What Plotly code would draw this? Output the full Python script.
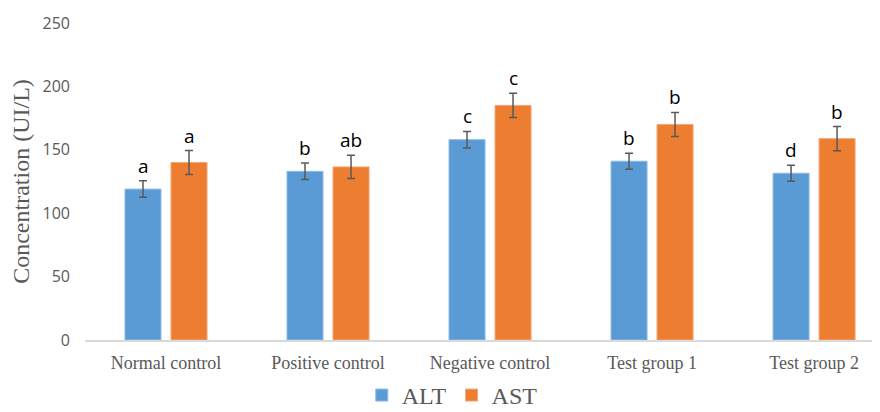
import plotly.graph_objects as go

categories = ["Normal control", "Positive control", "Negative control", "Test group 1", "Test group 2"]
alt_values = [119, 133, 158, 141, 131.5]
alt_errors = [6.5, 6.5, 6.5, 6.3, 6.3]
ast_values = [140, 136.5, 185, 170, 158.8]
ast_errors = [9.4, 9.2, 9.5, 9.5, 9.5]
alt_letters = ["a", "b", "c", "b", "d"]
ast_letters = ["a", "ab", "c", "b", "b"]

BLUE = "#5B9BD5"
ORANGE = "#ED7D31"
GRAY = "#595959"

fig = go.Figure()
fig.add_trace(go.Bar(
    name="ALT", x=categories, y=alt_values,
    marker=dict(color=BLUE, line=dict(color="#8DBBE6", width=1)),
    error_y=dict(type="data", array=alt_errors, color=GRAY, thickness=1.5, width=4),
))
fig.add_trace(go.Bar(
    name="AST", x=categories, y=ast_values,
    marker=dict(color=ORANGE, line=dict(color="#F4A672", width=1)),
    error_y=dict(type="data", array=ast_errors, color=GRAY, thickness=1.5, width=4),
))

off = 23 / 162
annotations = []
for i in range(len(categories)):
    annotations.append(dict(x=i - off, y=alt_values[i] + alt_errors[i], xref="x", yref="y",
                            text=alt_letters[i], showarrow=False, yanchor="bottom", yshift=0,
                            font=dict(family="Open Sans", size=19, color="black")))
    annotations.append(dict(x=i + off, y=ast_values[i] + ast_errors[i], xref="x", yref="y",
                            text=ast_letters[i], showarrow=False, yanchor="bottom", yshift=0,
                            font=dict(family="Open Sans", size=19, color="black")))

# page body has an 8px margin, so the figure is offset by 8px right and down
fig.update_layout(
    width=872, height=404,
    margin=dict(l=77, r=0, t=15, b=72, autoexpand=False),
    plot_bgcolor="white", paper_bgcolor="white",
    barmode="group", bargap=0.432, bargroupgap=0.217,
    showlegend=True,
    legend=dict(orientation="h", x=0.462, xanchor="center", y=-0.175, yanchor="middle",
                font=dict(family="Liberation Serif", size=24, color=GRAY),
                itemwidth=30, traceorder="normal"),
    annotations=annotations,
    xaxis=dict(range=[-0.5, 4.407], showgrid=False, showline=True, linecolor="#D9D9D9",
               linewidth=1.5, ticks="", ticklabelstandoff=6,
               tickfont=dict(family="Liberation Serif", size=18, color=GRAY)),
    yaxis=dict(range=[0, 250], dtick=50, showgrid=False, zeroline=False, showline=False,
               ticks="", ticklabelstandoff=14,
               tickfont=dict(family="Open Sans", size=16, color=GRAY),
               title=dict(text="Concentration (UI/L)", standoff=12,
                          font=dict(family="Liberation Serif", size=24, color=GRAY))),
)

fig.write_html("out.html")
